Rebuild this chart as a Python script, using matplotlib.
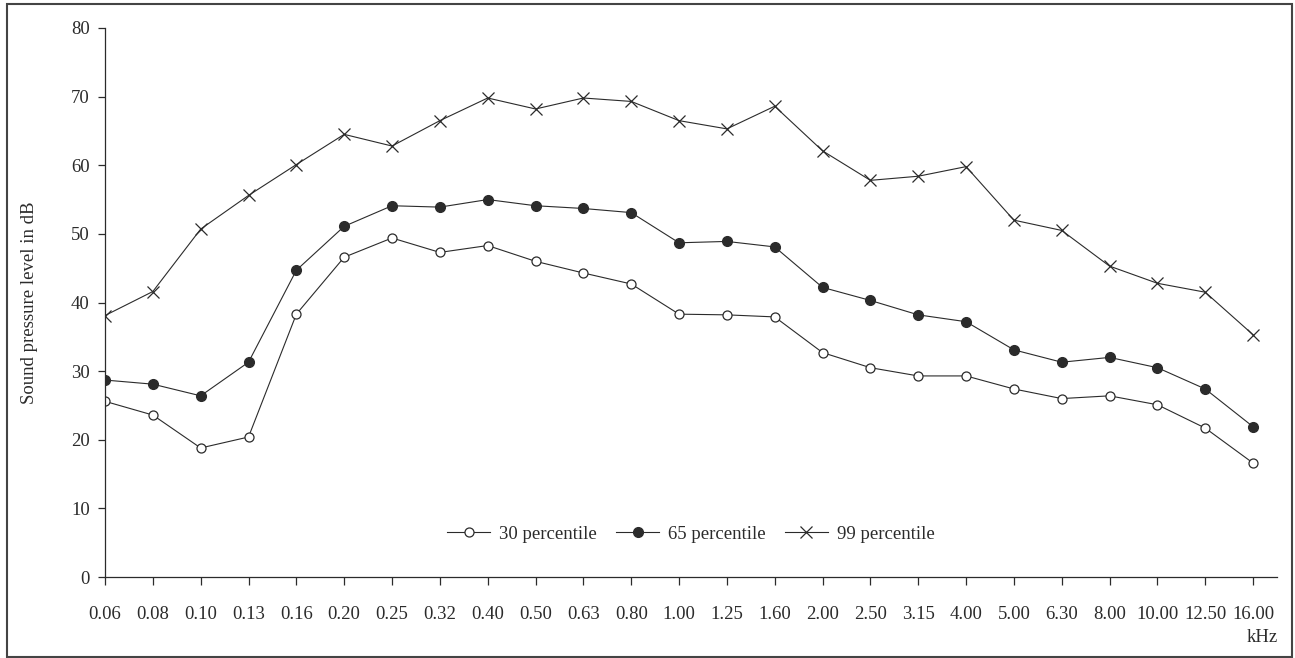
import matplotlib
matplotlib.use("Agg")
import matplotlib.pyplot as plt
from matplotlib.patches import Rectangle

# frequency bands (kHz) and percentile levels (dB)
freq = ['0.06', '0.08', '0.10', '0.13', '0.16', '0.20', '0.25', '0.32', '0.40',
        '0.50', '0.63', '0.80', '1.00', '1.25', '1.60', '2.00', '2.50', '3.15',
        '4.00', '5.00', '6.30', '8.00', '10.00', '12.50', '16.00']
p30 = [25.6, 23.6, 18.8, 20.4, 38.3, 46.6, 49.4, 47.3, 48.3, 46.0, 44.3, 42.7,
       38.3, 38.2, 37.9, 32.7, 30.5, 29.3, 29.3, 27.4, 26.0, 26.4, 25.1, 21.7, 16.6]
p65 = [28.7, 28.1, 26.4, 31.3, 44.7, 51.1, 54.1, 53.9, 55.0, 54.1, 53.7, 53.1,
       48.7, 48.9, 48.1, 42.2, 40.3, 38.2, 37.2, 33.1, 31.3, 32.0, 30.5, 27.4, 21.9]
p99 = [38.1, 41.6, 50.7, 55.6, 60.1, 64.5, 62.8, 66.5, 69.8, 68.2, 69.8, 69.3,
       66.5, 65.3, 68.6, 62.1, 57.8, 58.4, 59.8, 52.0, 50.5, 45.3, 42.8, 41.5, 35.3]

plt.rcParams['font.family'] = ['Liberation Serif', 'DejaVu Serif']
fs = 13.5
plt.rcParams['font.size'] = fs

W, H = 1295, 658
fig = plt.figure(figsize=(W / 100, H / 100), dpi=100)
ax = fig.add_axes([105 / W, 1 - 577 / H, (1277 - 105) / W, (577 - 28) / H])

c = '#2b2b2b'
x = list(range(len(freq)))
ax.plot(x, p30, color=c, lw=0.8, marker='o', ms=6.5, mfc='white', mec=c, mew=0.9,
        label='30 percentile')
ax.plot(x, p65, color=c, lw=0.8, marker='o', ms=7, mfc=c, mec=c,
        label='65 percentile')
ax.plot(x, p99, color=c, lw=0.8, marker='x', ms=8, mew=0.9, mec=c,
        label='99 percentile')

ax.set_xlim(0, len(freq) - 1 + 0.5)
ax.set_ylim(0, 80)
ax.set_xticks(x)
ax.set_xticklabels(freq)
ax.set_yticks(range(0, 81, 10))
ax.tick_params(axis='x', direction='out', length=6, width=0.9, pad=15, colors=c)
ax.tick_params(axis='y', direction='out', length=5, width=0.9, pad=6, colors=c)
for s in ['top', 'right']:
    ax.spines[s].set_visible(False)
for s in ['left', 'bottom']:
    ax.spines[s].set_color(c)
    ax.spines[s].set_linewidth(0.9)

ax.set_ylabel('Sound pressure level in dB', color=c, labelpad=24)
fig.text(1278 / W, 1 - 637 / H, 'kHz', ha='right', va='center', color=c, fontsize=fs)

ax.legend(loc='center', bbox_to_anchor=(0.5, (576.7 - 534) / (576.7 - 28)),
          ncol=3, frameon=False, handlelength=2.3, handletextpad=0.5,
          columnspacing=1.0, fontsize=fs, labelcolor=c)

# outer frame
fig.patches.append(Rectangle((6.5 / W, 1.5 / H), (1291.5 - 6.5) / W, (654.5 - 1.5) / H,
                             transform=fig.transFigure, fill=False,
                             edgecolor='#444444', lw=1.5))

fig.savefig('out.png', dpi=100)
